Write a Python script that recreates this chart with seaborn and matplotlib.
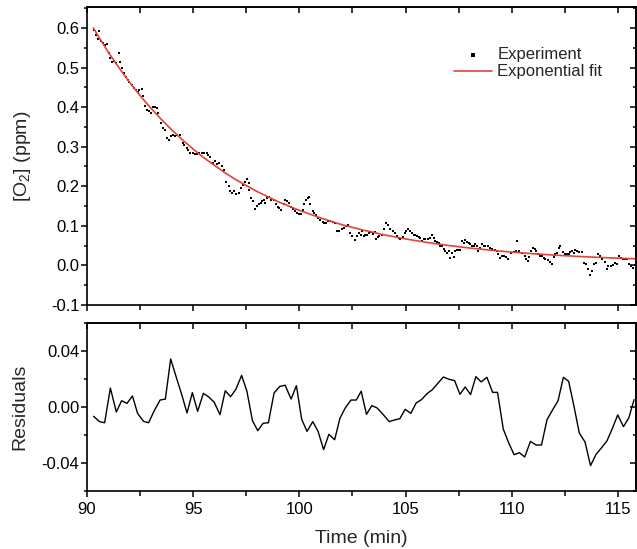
import matplotlib
matplotlib.use("Agg")
import numpy as np
import pandas as pd
import seaborn as sns
import matplotlib.pyplot as plt
from matplotlib.ticker import MultipleLocator, FormatStrFormatter

# ---------------- data ----------------
exp_time_a = [90.31, 90.44, 90.50, 90.58, 90.66, 90.75, 90.86, 90.94, 91.02, 91.10,
              91.17, 91.28, 91.38, 91.49, 91.56, 91.64, 91.75, 91.85, 91.91, 92.00,
              92.11, 92.19, 92.32, 92.38, 92.47, 92.58, 92.66, 92.74, 92.82, 92.91,
              93.00, 93.10, 93.21, 93.29, 93.36, 93.47, 93.57, 93.68, 93.79, 93.88,
              93.94, 94.07, 94.15, 94.26, 94.38, 94.51, 94.59, 94.69, 94.77, 94.85,
              94.98, 95.09, 95.20, 95.29, 95.40, 95.51, 95.63, 95.71, 95.79, 95.92,
              96.03, 96.10, 96.23, 96.34, 96.45, 96.54]
exp_o2_a = [0.596, 0.582, 0.573, 0.592, 0.568, 0.561, 0.557, 0.559, 0.536, 0.523,
            0.515, 0.517, 0.512, 0.536, 0.515, 0.498, 0.485, 0.477, 0.469, 0.464,
            0.456, 0.448, 0.443, 0.439, 0.443, 0.446, 0.428, 0.403, 0.393, 0.389,
            0.386, 0.401, 0.400, 0.397, 0.385, 0.359, 0.347, 0.343, 0.322, 0.317,
            0.326, 0.330, 0.327, 0.330, 0.330, 0.309, 0.305, 0.296, 0.291, 0.285,
            0.284, 0.281, 0.282, 0.284, 0.284, 0.285, 0.284, 0.280, 0.275, 0.259,
            0.263, 0.257, 0.260, 0.250, 0.242, 0.211]

exp_time_b = [96.67, 96.71, 96.82, 96.92, 97.03, 97.14, 97.23, 97.34, 97.45, 97.54,
              97.61, 97.65, 97.73, 97.81, 97.92, 98.01, 98.08, 98.17, 98.23, 98.33,
              98.39, 98.48, 98.56, 98.67, 98.79, 98.90, 98.98, 99.06, 99.14, 99.27,
              99.34, 99.42, 99.53, 99.61, 99.69, 99.80, 99.89, 100.00, 100.08, 100.16,
              100.23, 100.31, 100.39, 100.47, 100.52, 100.63, 100.70, 100.78, 100.89, 100.99,
              101.10, 101.17, 101.25, 101.36, 101.46, 101.57, 101.67, 101.77, 101.88, 101.99,
              102.08, 102.19, 102.27, 102.39, 102.50, 102.61, 102.71, 102.82, 102.90]
exp_o2_b = [0.200, 0.187, 0.183, 0.187, 0.181, 0.183, 0.196, 0.204, 0.212, 0.218,
            0.208, 0.191, 0.170, 0.162, 0.143, 0.149, 0.154, 0.158, 0.162, 0.166,
            0.158, 0.170, 0.173, 0.166, 0.165, 0.154, 0.148, 0.145, 0.139, 0.154,
            0.166, 0.162, 0.158, 0.148, 0.143, 0.137, 0.133, 0.130, 0.130, 0.141,
            0.154, 0.166, 0.170, 0.173, 0.154, 0.137, 0.133, 0.128, 0.120, 0.116,
            0.109, 0.106, 0.107, 0.112, 0.112, 0.109, 0.107, 0.086, 0.088, 0.092,
            0.095, 0.099, 0.101, 0.082, 0.074, 0.064, 0.074, 0.081, 0.078]

exp_time_c = [102.96, 103.04, 103.11, 103.19, 103.27, 103.35, 103.46, 103.55, 103.62, 103.71,
              103.77, 103.87, 103.98, 104.09, 104.18, 104.29, 104.40, 104.49, 104.60, 104.68,
              104.76, 104.87, 104.96, 105.02, 105.12, 105.23, 105.31, 105.38, 105.46, 105.54,
              105.62, 105.70, 105.78, 105.85, 105.93, 106.06, 106.17, 106.24, 106.32, 106.40,
              106.48, 106.56, 106.64, 106.71, 106.79, 106.87, 106.95, 107.03, 107.11, 107.18,
              107.26, 107.34, 107.42, 107.50, 107.57, 107.65, 107.73, 107.81, 107.89, 107.97,
              108.04, 108.12, 108.20, 108.28, 108.36, 108.43, 108.51, 108.59, 108.67, 108.75,
              108.87, 108.98, 109.06, 109.19, 109.30, 109.37, 109.45]
exp_o2_c = [0.087, 0.074, 0.078, 0.076, 0.082, 0.084, 0.080, 0.084, 0.067, 0.072,
            0.074, 0.076, 0.091, 0.108, 0.101, 0.092, 0.087, 0.082, 0.074, 0.070,
            0.067, 0.072, 0.081, 0.086, 0.091, 0.087, 0.082, 0.078, 0.076, 0.074,
            0.072, 0.070, 0.061, 0.066, 0.067, 0.067, 0.070, 0.078, 0.070, 0.061,
            0.059, 0.057, 0.050, 0.049, 0.042, 0.036, 0.032, 0.036, 0.019, 0.032,
            0.022, 0.036, 0.039, 0.040, 0.039, 0.061, 0.057, 0.064, 0.059, 0.057,
            0.055, 0.050, 0.049, 0.053, 0.049, 0.036, 0.045, 0.053, 0.050, 0.050,
            0.049, 0.045, 0.042, 0.040, 0.036, 0.028, 0.019]

exp_time_d = [109.52, 109.62, 109.73, 109.83, 109.98, 110.09, 110.20, 110.25, 110.36, 110.49,
              110.61, 110.67, 110.77, 110.83, 110.92, 110.99, 111.08, 111.14, 111.24, 111.35,
              111.42, 111.50, 111.58, 111.71, 111.82, 111.89, 111.97, 112.05, 112.13, 112.21,
              112.29, 112.39, 112.49, 112.60, 112.68, 112.76, 112.83, 112.91, 112.99, 113.07,
              113.18, 113.30, 113.38, 113.49, 113.58, 113.69, 113.77, 113.85, 113.96, 114.08,
              114.16, 114.27, 114.37, 114.48, 114.55, 114.68, 114.79, 114.87, 114.95, 115.06,
              115.15, 115.26, 115.34, 115.41, 115.52, 115.62, 115.70, 115.78]
exp_o2_d = [0.024, 0.025, 0.022, 0.015, 0.032, 0.034, 0.036, 0.061, 0.036, 0.032,
            0.025, 0.017, 0.011, 0.022, 0.036, 0.045, 0.042, 0.036, 0.030, 0.025,
            0.024, 0.019, 0.015, 0.013, 0.008, 0.003, 0.022, 0.028, 0.032, 0.045,
            0.049, 0.034, 0.029, 0.028, 0.030, 0.034, 0.036, 0.032, 0.039, 0.036,
            0.034, 0.034, 0.007, 0.003, -0.008, -0.023, -0.014, 0.003, 0.007, 0.028,
            0.024, 0.015, 0.008, -0.010, -0.002, -0.002, 0.000, 0.007, 0.003, 0.024,
            0.019, 0.017, 0.015, 0.017, 0.003, -0.002, -0.006, 0.002]

fit_time = [90.3, 90.5, 91.0, 91.5, 92.0, 92.5, 93.0, 93.5, 94.0, 94.5, 95.0, 95.5,
            96.0, 96.5, 97.0, 97.5, 98.0, 98.5, 99.0, 100.0, 101.0, 102.0, 103.0,
            104.0, 105.0, 106.0, 107.0, 108.0, 109.0, 110.0, 111.0, 112.0, 113.0,
            114.0, 115.0, 116.0]
fit_o2 = [0.600, 0.582, 0.539, 0.500, 0.463, 0.429, 0.398, 0.369, 0.342, 0.317, 0.294, 0.272,
          0.253, 0.234, 0.217, 0.202, 0.187, 0.174, 0.161, 0.139, 0.120, 0.103, 0.0893,
          0.0773, 0.0670, 0.0581, 0.0506, 0.0441, 0.0385, 0.0337, 0.0296, 0.0261, 0.0231,
          0.0205, 0.0183, 0.0164]

res_time = [90.31, 90.59, 90.83, 91.10, 91.38, 91.63, 91.88, 92.14, 92.38, 92.66,
            92.90, 93.16, 93.44, 93.69, 93.94, 94.19, 94.46, 94.71, 94.96, 95.21,
            95.48, 95.73, 95.99, 96.26, 96.51, 96.76, 97.01, 97.28, 97.53, 97.79,
            98.04, 98.29, 98.54, 98.81, 99.08, 99.33, 99.61, 99.86, 100.11, 100.36,
            100.63, 100.88, 101.14, 101.39, 101.66, 101.91, 102.16, 102.43, 102.68, 102.91,
            103.16, 103.41, 103.66, 103.95, 104.23, 104.48, 104.73, 104.98, 105.25, 105.50,
            105.75, 106.01, 106.26, 106.53, 106.78, 107.05, 107.31, 107.56, 107.81, 108.06,
            108.31, 108.56, 108.83, 109.10, 109.33, 109.60, 109.86, 110.11, 110.36, 110.61,
            110.88, 111.15, 111.40, 111.66, 111.91, 112.18, 112.43, 112.68, 112.93, 113.18,
            113.45, 113.71, 113.96, 114.23, 114.48, 114.74, 114.99, 115.26, 115.51, 115.76]
res_val = [-0.0067, -0.0105, -0.0113, 0.0136, -0.0036, 0.0045, 0.0026, 0.0079, -0.0045, -0.0103,
           -0.0113, -0.0029, 0.0050, 0.0057, 0.0345, 0.0220, 0.0089, -0.0043, 0.0103, -0.0031,
           0.0098, 0.0072, 0.0034, -0.0055, 0.0117, 0.0074, 0.0127, 0.0227, 0.0113, -0.0098,
           -0.0170, -0.0117, -0.0113, 0.0101, 0.0148, 0.0156, 0.0057, 0.0153, -0.0089, -0.0175,
           -0.0105, -0.0175, -0.0306, -0.0196, -0.0235, -0.0081, -0.0007, 0.0050, 0.0050, 0.0113,
           -0.0053, 0.0010, -0.0007, -0.0055, -0.0105, -0.0093, -0.0084, -0.0017, -0.0045, 0.0029,
           0.0053, 0.0096, 0.0124, 0.0172, 0.0215, 0.0199, 0.0189, 0.0091, 0.0144, 0.0089,
           0.0218, 0.0180, 0.0213, 0.0105, 0.0105, -0.0158, -0.0259, -0.0342, -0.0328, -0.0359,
           -0.0247, -0.0273, -0.0273, -0.0091, -0.0024, 0.0045, 0.0213, 0.0184, 0.0005, -0.0187,
           -0.0251, -0.0421, -0.0342, -0.0292, -0.0244, -0.0153, -0.0057, -0.0141, -0.0079, 0.0053]

exp_df = pd.DataFrame({
    "time": exp_time_a + exp_time_b + exp_time_c + exp_time_d,
    "o2": exp_o2_a + exp_o2_b + exp_o2_c + exp_o2_d,
})
fit_df = pd.DataFrame({"time": fit_time, "o2": fit_o2})
res_df = pd.DataFrame({"time": res_time, "res": res_val})

# ---------------- style ----------------
sns.set_style("ticks")
plt.rcParams["font.family"] = ["Liberation Sans", "DejaVu Sans"]
plt.rcParams["axes.unicode_minus"] = False
plt.rcParams["mathtext.default"] = "regular"
plt.rcParams["axes.edgecolor"] = "black"
plt.rcParams["xtick.color"] = "black"
plt.rcParams["ytick.color"] = "black"

RED = "#e0443a"
W, H = 637, 549
fig = plt.figure(figsize=(W / 100, H / 100), dpi=100)
ax1 = fig.add_axes([87 / W, 1 - 305 / H, 549 / W, 298 / H])
ax2 = fig.add_axes([87 / W, 1 - 491 / H, 549 / W, 168 / H])

sns.scatterplot(data=exp_df, x="time", y="o2", ax=ax1, marker="s", s=3,
                color="black", linewidth=0, label="Experiment")
sns.lineplot(data=fit_df, x="time", y="o2", ax=ax1, color=RED, linewidth=1.2,
             label="Exponential fit", estimator=None)
sns.lineplot(data=res_df, x="time", y="res", ax=ax2, color="black", linewidth=1.0,
             estimator=None)

XMIN, XMAX = 90, 115.85


def style_axes(ax, ymin, ymax, ymaj, ymin_step, fmt, show_xlabels):
    ax.set_xlim(XMIN, XMAX)
    ax.set_ylim(ymin, ymax)
    ax.xaxis.set_major_locator(MultipleLocator(5))
    ax.xaxis.set_minor_locator(MultipleLocator(2.5))
    ax.yaxis.set_major_locator(MultipleLocator(ymaj))
    ax.yaxis.set_minor_locator(MultipleLocator(ymin_step))
    ax.yaxis.set_major_formatter(FormatStrFormatter(fmt))
    ax.tick_params(which="both", direction="out", top=False, right=False,
                   width=1.1, labelsize=12)
    ax.tick_params(axis="y", which="major", length=4, pad=1.5)
    ax.tick_params(axis="y", which="minor", length=2.5)
    ax.tick_params(axis="x", which="major", length=4, pad=4)
    ax.tick_params(axis="x", which="minor", length=3.5)
    if not show_xlabels:
        ax.tick_params(axis="x", labelbottom=False)
    for sp in ax.spines.values():
        sp.set_visible(True)
        sp.set_linewidth(1.2)
        sp.set_color("black")
    # mirrored ticks pointing inward
    sx = ax.secondary_xaxis("top")
    sx.xaxis.set_major_locator(MultipleLocator(5))
    sx.xaxis.set_minor_locator(MultipleLocator(2.5))
    sx.tick_params(axis="x", which="both", direction="in", labeltop=False,
                   labelbottom=False, width=1.1, length=4)
    sx.spines["top"].set_linewidth(1.2)
    sy = ax.secondary_yaxis("right")
    sy.yaxis.set_major_locator(MultipleLocator(ymaj))
    sy.yaxis.set_minor_locator(MultipleLocator(ymin_step))
    sy.tick_params(axis="y", which="both", direction="in", labelright=False,
                   labelleft=False, width=1.1)
    sy.tick_params(axis="y", which="major", length=4)
    sy.tick_params(axis="y", which="minor", length=2.5)
    sy.spines["right"].set_linewidth(1.2)


style_axes(ax1, -0.1, 0.653, 0.1, 0.05, "%.1f", False)
style_axes(ax2, -0.0603, 0.0603, 0.04, 0.02, "%.2f", True)

ax1.set_xlabel("")
ax1.set_ylabel("[O$_2$] (ppm)", fontsize=14)
ax2.set_ylabel("Residuals", fontsize=14)
ax2.set_xlabel("Time (min)", fontsize=14, labelpad=9)
ax1.yaxis.set_label_coords(-0.098, 0.5)
ax2.yaxis.set_label_coords(-0.106, 0.5)

leg = ax1.legend(loc="upper right", bbox_to_anchor=(0.96, 0.905), frameon=False,
                 fontsize=12, handlelength=2.3, handletextpad=0.3,
                 labelspacing=0.15, markerscale=1.5, borderpad=0.2)

fig.savefig("out.png", dpi=100)
